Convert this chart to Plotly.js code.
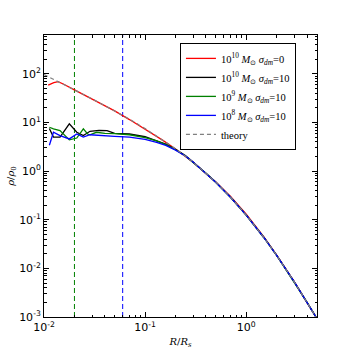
<!DOCTYPE html>
<html>
<head>
<meta charset="utf-8">
<script src="https://cdn.plot.ly/plotly-3.0.1.min.js"></script>
<style>
	html, body { margin: 0; padding: 0; background: #fff; }
	#chart { width: 353px; height: 353px; }
</style>
</head>
<body>
<div id="chart"></div>
<script>
"use strict";

// radii (R/Rs) and densities
var theoryR = [0.01, 0.012, 0.015, 0.02, 0.03, 0.04, 0.05, 0.07, 0.1, 0.15, 0.2, 0.3, 0.4, 0.5, 0.7, 1, 1.5, 2, 3, 4, 5];
var theoryRho = [97, 80.4, 63.7, 47.1, 30.5, 22.2, 17.3, 11.7, 7.51, 4.38, 2.89, 1.52, 0.911, 0.593, 0.291, 0.125, 0.0427, 0.0185, 0.0052, 0.002, 0.00093];

var redR = [0.011, 0.0125, 0.0138, 0.0155, 0.02, 0.03, 0.05, 0.07, 0.1, 0.15, 0.2, 0.3, 0.4, 0.5, 0.7, 1, 1.5, 2, 3, 4, 5];
var redRho = [59, 66, 69, 62, 47, 30.5, 17.3, 11.5, 7.4, 4.3, 2.85, 1.5, 0.89, 0.6, 0.3, 0.13, 0.044, 0.0187, 0.0052, 0.002, 0.00093];

var blackR = [0.0113, 0.0124, 0.0144, 0.0178, 0.0211, 0.0245, 0.0285, 0.035, 0.042, 0.05, 0.07, 0.085, 0.1, 0.13, 0.16, 0.2, 0.25, 0.3, 0.4, 0.5, 0.7, 1, 1.5, 2, 3, 4, 5];
var blackRho = [7.5, 5.0, 5.0, 9.4, 6.3, 5.4, 6.6, 6.9, 6.8, 6.0, 5.8, 5.5, 5.1, 4.2, 3.6, 2.8, 2.1, 1.53, 0.91, 0.593, 0.291, 0.125, 0.0427, 0.0185, 0.0052, 0.002, 0.00093];

var greenR = [0.0113, 0.0124, 0.0144, 0.0178, 0.0211, 0.0245, 0.027, 0.0285, 0.033, 0.04, 0.05, 0.07, 0.1, 0.13, 0.16, 0.2, 0.25, 0.3, 0.4, 0.5, 0.7, 1, 1.5, 2, 3, 4, 5];
var greenRho = [8.0, 7.4, 6.8, 4.4, 4.8, 7.4, 5.8, 5.6, 6.3, 6.0, 5.9, 5.6, 4.9, 4.2, 3.5, 2.75, 2.05, 1.52, 0.91, 0.593, 0.291, 0.125, 0.0427, 0.0185, 0.0052, 0.002, 0.00093];

var blueR = [0.0113, 0.0124, 0.0144, 0.0178, 0.0211, 0.0245, 0.0285, 0.035, 0.042, 0.05, 0.07, 0.1, 0.13, 0.16, 0.2, 0.25, 0.3, 0.4, 0.5, 0.7, 1, 1.5, 2, 3, 4, 5];
var blueRho = [3.4, 6.3, 5.4, 4.6, 5.8, 5.0, 5.6, 5.4, 5.4, 5.2, 5.0, 4.5, 3.9, 3.4, 2.7, 2.05, 1.52, 0.91, 0.593, 0.291, 0.125, 0.0427, 0.0185, 0.0052, 0.002, 0.00093];

// vertical markers
var vlineR = [0.02, 0.06];
var vlineColors = ["#008000", "#0000ff"];
var yspan = [1e-3, 630];

// tick positions and labels
var xTicks = [0.01, 0.1, 1];
var xTickText = ["10<sup>-2</sup>", "10<sup>-1</sup>", "10<sup>0</sup>"];
var yTicks = [0.001, 0.01, 0.1, 1, 10, 100];
var yTickText = ["10<sup>-3</sup>", "10<sup>-2</sup>", "10<sup>-1</sup>", "10<sup>0</sup>", "10<sup>1</sup>", "10<sup>2</sup>"];

var names = [
	"10<sup>10</sup> <i>M</i><sub>⊙</sub> <i>σ</i><sub><i>dm</i></sub>=0",
	"10<sup>10</sup> <i>M</i><sub>⊙</sub> <i>σ</i><sub><i>dm</i></sub>=10",
	"10<sup>9</sup> <i>M</i><sub>⊙</sub> <i>σ</i><sub><i>dm</i></sub>=10",
	"10<sup>8</sup> <i>M</i><sub>⊙</sub> <i>σ</i><sub><i>dm</i></sub>=10",
	"theory"
];

function line(x, y, name, color, dash, width) {
	return {
		x: x,
		y: y,
		mode: "lines",
		name: name,
		line: { color: color, width: width || 1.3, dash: dash || "solid" }
	};
} //line

function draw() {
	var data = [];
	for (let i = 0; i < vlineR.length; i++) {
		let v = line([vlineR[i], vlineR[i]], yspan, "", vlineColors[i], "5px,3px", 1);
		v.showlegend = false;
		v.hoverinfo = "skip";
		data.push(v);
	}
	data.push(line(redR, redRho, names[0], "#ff0000"));
	data.push(line(blackR, blackRho, names[1], "#000000"));
	data.push(line(greenR, greenRho, names[2], "#008000"));
	data.push(line(blueR, blueRho, names[3], "#0000ff"));
	data.push(line(theoryR, theoryRho, names[4], "#808080", "4px,3px", 1.2));
	// one legend group per trace, so the legend rows get a little air between them
	for (let i = 0; i < data.length; i++) data[i].legendgroup = "s" + i;

	var axis = {
		type: "log",
		tickmode: "array",
		showgrid: false,
		zeroline: false,
		showline: true,
		linecolor: "#000",
		linewidth: 1,
		mirror: "allticks",
		ticks: "inside",
		ticklen: 5,
		tickcolor: "#000",
		tickfont: { family: "DejaVu Sans", size: 11, color: "#000" },
		minor: { ticks: "inside", ticklen: 2.5, tickcolor: "#000", dtick: "D1" }
	};

	var layout = {
		width: 353,
		height: 353,
		margin: { l: 44, r: 36, t: 35, b: 36 },
		paper_bgcolor: "#fff",
		plot_bgcolor: "#fff",
		showlegend: true,
		xaxis: Object.assign({}, axis, {
			range: [-2, 0.7],
			tickvals: xTicks,
			ticktext: xTickText,
			title: { text: "<i>R</i>/<i>R</i><sub><i>s</i></sub>", font: { family: "DejaVu Serif", size: 10, color: "#000" }, standoff: 4 }
		}),
		yaxis: Object.assign({}, axis, {
			range: [-3, 2.8],
			tickvals: yTicks,
			ticktext: yTickText,
			title: { text: "<i>ρ</i>/<i>ρ</i><sub>0</sub>", font: { family: "DejaVu Serif", size: 10, color: "#000" }, standoff: 2 }
		}),
		legend: {
			x: 0.498,
			y: 0.972,
			xanchor: "left",
			yanchor: "top",
			bgcolor: "#fff",
			bordercolor: "#000",
			borderwidth: 1,
			tracegroupgap: 0,
			itemwidth: 30,
			font: { family: "Liberation Serif", size: 10.5, color: "#000" }
		}
	};

	return Plotly.newPlot("chart", data, layout, { staticPlot: true });
} //draw

window.addEventListener("DOMContentLoaded", draw);
</script>
</body>
</html>
